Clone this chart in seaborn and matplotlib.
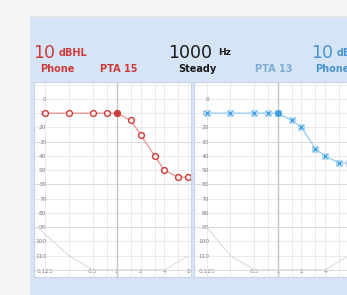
import matplotlib
matplotlib.use("Agg")
import matplotlib.pyplot as plt
import seaborn as sns
from matplotlib.patches import Rectangle

# audiogram data (kHz / dB HL)
freqs = [0.125, 0.25, 0.5, 0.75, 1, 1.5, 2, 3, 4, 6, 8]
right_ear_db = [10, 10, 10, 10, 10, 15, 25, 40, 50, 55, 55]
left_ear_db = [10, 10, 10, 10, 10, 15, 20, 35, 40, 45, 45]
current_idx = 4  # 1000 Hz, the tone being played

freq_labels = {0.125: "0.125", 0.5: "0.5", 1: "1", 2: "2", 4: "4", 8: "8"}
db_ticks = list(range(-10, 130, 10))
db_labels = ["" if d < 0 or d > 110 else str(d) for d in db_ticks]

# grey limit curve at the bottom of each chart
left_floor_freq = [0.1, 0.25, 0.5, 1, 2, 4, 8]
right_floor_freq = [0.125, 0.25, 0.5, 1, 2, 4, 8]
floor_db = [90, 110, 120, 120, 120, 120, 110]

W, H = 347, 295
RED = "#cc3a3a"
BLUE = "#3f9ee2"

sns.set_style("white")
plt.rcParams["font.family"] = ["DejaVu Sans"]

fig = plt.figure(figsize=(W / 100, H / 100), dpi=100)
fig.patch.set_facecolor("#f4f5f7")
fig.patches.append(Rectangle((30 / W, 0), 1, 1 - 16 / H, transform=fig.transFigure,
                             color="#e4e7ea", zorder=-2))
fig.patches.append(Rectangle((31 / W, 0), 1, 1 - 18 / H, transform=fig.transFigure,
                             color="#d6e5f6", zorder=-1))


def px_axes(x0, y0, x1, y1):
    ax = fig.add_axes([x0 / W, 1 - y1 / H, (x1 - x0) / W, (y1 - y0) / H])
    ax.set_zorder(2)
    return ax


def setup(ax, xlo, xhi, ypad):
    ax.set_facecolor("white")
    ax.set_xscale("log", base=2)
    ax.set_xlim(2 ** xlo, 2 ** xhi)
    ax.set_ylim(125, -11.9)
    ax.set_xticks(freqs)
    ax.set_xticklabels([freq_labels.get(f, "") for f in freqs])
    ax.minorticks_off()
    ax.set_yticks(db_ticks)
    ax.set_yticklabels(db_labels)
    ax.tick_params(axis="both", length=0, labelsize=4.2, labelcolor="#808080")
    ax.tick_params(axis="y", pad=ypad)
    ax.tick_params(axis="x", pad=-5.5)
    ax.grid(True, color="#e8e8e8", lw=0.6)
    for d in [30, 60, 90, 120]:
        ax.axhline(d, color="#d9d9d9", lw=0.6, zorder=1)
    ax.axvline(1, color="#c4c4c4", lw=1.0, zorder=1)
    for s in ax.spines.values():
        s.set_color("#c8d5e2")
        s.set_linewidth(0.8)


# right ear (red circles)
ax1 = px_axes(34, 82, 191, 277)
setup(ax1, -3.46, 3.109, -9)
sns.lineplot(x=left_floor_freq, y=floor_db, ax=ax1, color="#d8d8d8", lw=0.7)
sns.lineplot(x=freqs, y=right_ear_db, ax=ax1, color="#ec9a9a", lw=1.0,
             marker="o", markersize=4.2, markerfacecolor="#fff0f0",
             markeredgecolor=RED, markeredgewidth=1.0, clip_on=False)
sns.scatterplot(x=[freqs[current_idx]], y=[right_ear_db[current_idx]], ax=ax1,
                color=RED, s=22, linewidth=0, zorder=5)

# left ear (blue crosses)
ax2 = px_axes(194, 82, 351, 277)
setup(ax2, -3.536, 3.09, -11)
sns.lineplot(x=right_floor_freq, y=floor_db, ax=ax2, color="#d8d8d8", lw=0.7)
sns.lineplot(x=freqs, y=left_ear_db, ax=ax2, color="#9ccdf0", lw=1.0,
             marker="s", markersize=4.2, markerfacecolor="#e3f2fc",
             markeredgecolor="#a9d5f4", markeredgewidth=0.6)
sns.scatterplot(x=freqs, y=left_ear_db, ax=ax2, marker="x", color=BLUE,
                s=9, linewidth=1.0, zorder=5)
sns.scatterplot(x=[freqs[current_idx]], y=[left_ear_db[current_idx]], ax=ax2,
                color=BLUE, s=24, linewidth=0, zorder=6)

for ax in (ax1, ax2):
    ax.set_xlabel("")
    ax.set_ylabel("")


def ftext(x, y, s, **kw):
    fig.text(x / W, 1 - y / H, s, va="baseline", **kw)


# header
ftext(33, 58.3, "10", fontsize=12.5, color=RED)
ftext(59, 56.5, "dBHL", fontsize=7, weight="bold", color=RED)
ftext(40.5, 71.5, "Phone", fontsize=7, weight="bold", color=RED)
ftext(100, 71.5, "PTA 15", fontsize=7, weight="bold", color=RED)
ftext(168.5, 58.3, "1000", fontsize=12.5, color="#1a1a1a")
ftext(218, 55, "Hz", fontsize=6.5, weight="bold", color="#1a1a1a")
ftext(178, 71.5, "Steady", fontsize=7, weight="bold", color="#1a1a1a")
ftext(255, 71.5, "PTA 13", fontsize=7, weight="bold", color="#7eadd4")
ftext(311, 58.3, "10", fontsize=12.5, color="#4a94cf")
ftext(337, 56.5, "dBHL", fontsize=7, weight="bold", color="#4a94cf")
ftext(315, 71.5, "Phone", fontsize=7, weight="bold", color="#4a94cf")

fig.savefig("out.png", dpi=100, facecolor=fig.get_facecolor())
